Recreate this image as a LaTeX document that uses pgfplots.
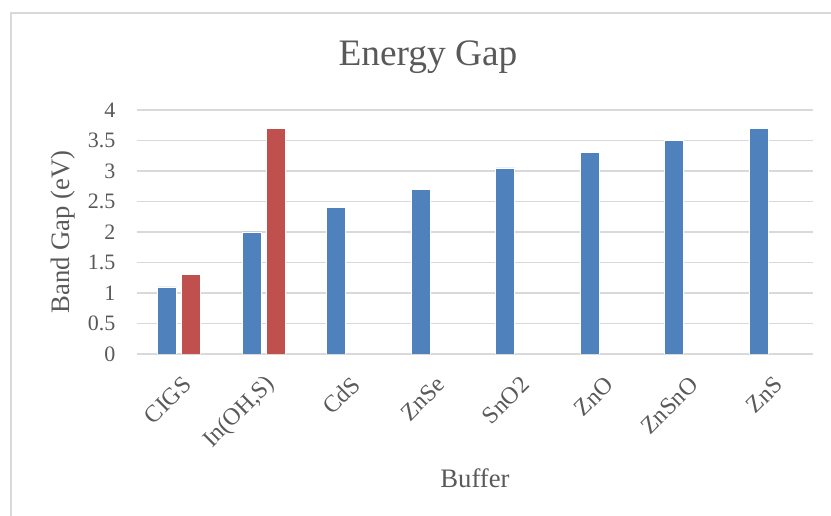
\documentclass[border=0pt]{standalone}
\usepackage{fontspec}
\setmainfont{Liberation Serif}
\usepackage{pgfplots}
\pgfplotsset{compat=1.18}

\definecolor{txt}{HTML}{595959}
\definecolor{gridc}{HTML}{D9D9D9}
\definecolor{blueS}{HTML}{4F81BD}
\definecolor{redS}{HTML}{C0504D}

\begin{document}
\begin{tikzpicture}[x=0.75pt,y=0.75pt]
\path[use as bounding box] (0,0) rectangle (831,516);
% chart frame
\draw[gridc, line width=0.9pt] (11,-10) -- (11,503) -- (845,503);
\node[text=txt, font=\fontsize{28}{28}\selectfont] at (428,459) {Energy Gap};
\begin{axis}[
  at={(102.75pt,121.5pt)}, anchor=south west,
  scale only axis, width=507pt, height=183pt,
  xmin=-0.5, xmax=7.5, ymin=0, ymax=4,
  xtick={0,...,7},
  xticklabels={CIGS,{In(OH,S)},CdS,ZnSe,SnO2,ZnO,ZnSnO,ZnS},
  ytick={0,0.5,1,1.5,2,2.5,3,3.5,4},
  /pgf/number format/assume math mode=true,
  axis line style={draw=none},
  major tick length=0pt,
  ymajorgrids, major grid style={draw=gridc, line width=0.8pt},
  ticklabel style={text=txt, font=\fontsize{16.5}{16.5}\selectfont},
  yticklabel style={anchor=east, inner sep=0pt, xshift=-16pt},
  xticklabel style={font=\fontsize{18}{18}\selectfont, anchor=east, inner sep=0pt, xshift=6pt, yshift=-20pt, rotate=45},
  xlabel={Buffer}, ylabel={Band Gap (eV)},
  label style={text=txt, font=\fontsize{20}{20}\selectfont},
  xlabel style={at={(axis description cs:0.5,-0.508)}, anchor=center},
  ylabel style={at={(axis description cs:-0.109,0.5)}, anchor=center},
  ybar, bar width=14.25pt,
]
\addplot[fill=blueS, draw=white, line width=0.4pt, bar shift=-9pt]
  coordinates {(0,1.1) (1,2.0) (2,2.4) (3,2.7) (4,3.05) (5,3.3) (6,3.5) (7,3.7)};
\addplot[fill=redS, draw=white, line width=0.4pt, bar shift=9pt]
  coordinates {(0,1.3) (1,3.7)};
\end{axis}
\end{tikzpicture}
\end{document}
